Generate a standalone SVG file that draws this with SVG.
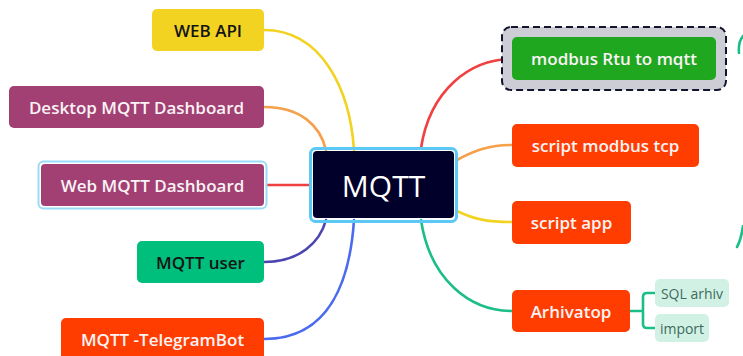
<svg xmlns="http://www.w3.org/2000/svg" width="743" height="356" viewBox="0 0 743 356">
  <style>
    .lbl { font-family: "Open Sans", "Liberation Sans", sans-serif; font-weight: 600; font-size: 17px; text-anchor: middle; dominant-baseline: central; }
    .light { fill: #FAF3F5; }
    .dark { fill: #141414; }
    .sub { font-family: "Open Sans", "Liberation Sans", sans-serif; font-weight: 500; font-size: 14px; text-anchor: middle; dominant-baseline: central; fill: #3C6B5C; }
    .conn path { fill: none; stroke-width: 2.6; stroke-linecap: round; }
  </style>
  <rect width="743" height="356" fill="#FFFFFF"/>

  <g id="connectors" class="conn">
    <path d="M 264 30 C 322 30, 350 90, 354 150" stroke="#F2D322"/>
    <path d="M 264 107 C 300 107, 320 125, 326 150" stroke="#F5A04A"/>
    <path d="M 267 185 L 310 185" stroke="#F04040"/>
    <path d="M 264 262 C 300 262, 320 242, 326 220" stroke="#4B45B0"/>
    <path d="M 264 339 C 330 339, 350 280, 354 220" stroke="#4A6AF0"/>
    <path d="M 421 148 C 430 90, 470 59, 512 59" stroke="#F04040"/>
    <path d="M 457 160 C 475 150, 490 145, 512 145" stroke="#F5A04A"/>
    <path d="M 457 211 C 475 220, 490 222, 512 222" stroke="#F2D322"/>
    <path d="M 421 220 C 430 280, 470 311, 512 311" stroke="#1BBE86"/>
    <path d="M 630 311 L 643 311 M 655 293 L 647 293 Q 643 293 643 297 L 643 324 Q 643 328 647 328 L 655 328" stroke="#1BBE86"/>
    <path d="M 743 36 Q 738 42 739 53" stroke="#1BBE86"/>
    <path d="M 743 226 Q 741 240 737 247" stroke="#1BBE86"/>
  </g>

  <g id="node-mqtt">
    <rect x="310.5" y="148.5" width="146" height="73" rx="5" fill="none" stroke="#5BC8F5" stroke-width="3"/>
    <rect x="313" y="151" width="141" height="67" rx="4" fill="#00002A"/>
    <text x="383.5" y="185" class="lbl" style="font-size:30px;font-weight:400" fill="#FFFFFF">MQTT</text>
  </g>

  <g id="node-web-api">
    <rect x="152" y="9" width="112" height="42" rx="5" fill="#F2D322"/>
    <text x="208" y="30" class="lbl dark">WEB API</text>
  </g>

  <g id="node-desktop-dashboard">
    <rect x="9" y="86" width="255" height="42" rx="5" fill="#A23F73"/>
    <text x="136.5" y="107" class="lbl light">Desktop MQTT Dashboard</text>
  </g>

  <g id="node-web-dashboard">
    <rect x="38.5" y="161.5" width="228" height="47" rx="5" fill="none" stroke="#9ADCF8" stroke-width="2"/>
    <rect x="41" y="164" width="223" height="42" rx="4" fill="#A23F73"/>
    <text x="152.5" y="185" class="lbl light">Web MQTT Dashboard</text>
  </g>

  <g id="node-mqtt-user">
    <rect x="137" y="241" width="127" height="42" rx="5" fill="#00BE7B"/>
    <text x="200.5" y="262" class="lbl dark">MQTT user</text>
  </g>

  <g id="node-telegram-bot">
    <rect x="61" y="318" width="203" height="42" rx="5" fill="#FF3D00"/>
    <text x="162.5" y="339" class="lbl light">MQTT -TelegramBot</text>
  </g>

  <g id="node-modbus-rtu">
    <rect x="502" y="27" width="224" height="63" rx="9" fill="#CDCDD6" stroke="#14142E" stroke-width="2" stroke-dasharray="7 4"/>
    <rect x="512" y="37" width="204" height="43" rx="5" fill="#1FA71F"/>
    <text x="614" y="58.5" class="lbl light">modbus Rtu to mqtt</text>
  </g>

  <g id="node-modbus-tcp">
    <rect x="512" y="124" width="187" height="43" rx="5" fill="#FF3D00"/>
    <text x="605.5" y="145.5" class="lbl light">script modbus tcp</text>
  </g>

  <g id="node-script-app">
    <rect x="512" y="201" width="119" height="43" rx="5" fill="#FF3D00"/>
    <text x="571.5" y="222.5" class="lbl light">script app</text>
  </g>

  <g id="node-arhivatop">
    <rect x="512" y="290" width="118" height="42" rx="5" fill="#FF3D00"/>
    <text x="571" y="311" class="lbl light">Arhivatop</text>
  </g>

  <g id="node-sql-arhiv">
    <rect x="655" y="279" width="74" height="28" rx="5" fill="#D2F1E5"/>
    <text x="692" y="293" class="sub">SQL arhiv</text>
  </g>

  <g id="node-import">
    <rect x="655" y="314" width="54" height="28" rx="5" fill="#D2F1E5"/>
    <text x="682" y="328" class="sub">import</text>
  </g>
</svg>
